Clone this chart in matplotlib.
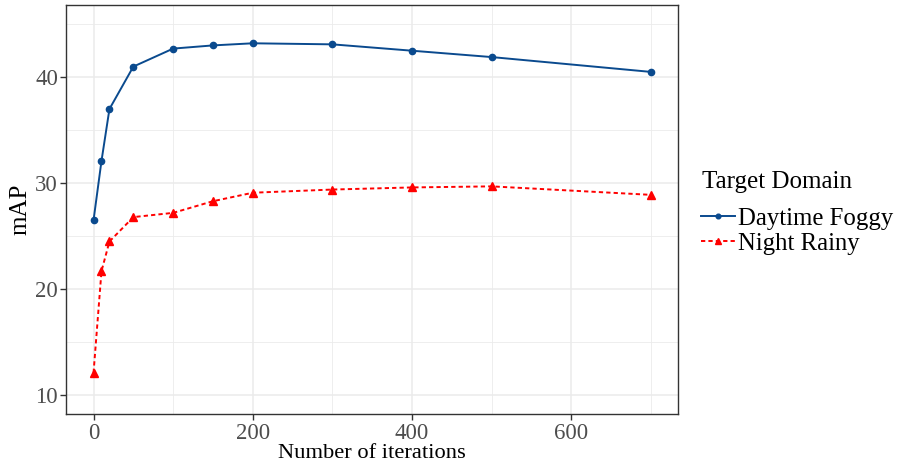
import numpy as np
import matplotlib.pyplot as plt
from matplotlib.ticker import MultipleLocator

iterations = [0, 10, 20, 50, 100, 150, 200, 300, 400, 500, 700]
daytime_foggy = [26.5, 32.1, 37.0, 41.0, 42.7, 43.0, 43.2, 43.1, 42.5, 41.9, 40.5]
night_rainy = [12.1, 21.7, 24.5, 26.8, 27.2, 28.3, 29.1, 29.4, 29.6, 29.7, 28.9]

series_names = ["Daytime Foggy", "Night Rainy"]

plt.rcParams["font.family"] = ["Liberation Serif", "DejaVu Serif"]

fig = plt.figure(figsize=(8.98, 4.67), dpi=100)
ax = fig.add_axes([0.074, 0.113, 0.681, 0.876])

ax.plot(iterations, daytime_foggy, color="#0A4A8E", linestyle="-", linewidth=1.4,
        marker="o", markersize=4.5, label=series_names[0], zorder=3)
ax.plot(iterations, night_rainy, color="#FF0000", linestyle=(0, (2.2, 1.6)), linewidth=1.4,
        marker="^", markersize=5.5, label=series_names[1], zorder=3)

ax.set_xlim(-34, 734)
ax.set_ylim(8.2, 46.8)

ax.xaxis.set_major_locator(MultipleLocator(200))
ax.xaxis.set_minor_locator(MultipleLocator(100))
ax.yaxis.set_major_locator(MultipleLocator(10))
ax.yaxis.set_minor_locator(MultipleLocator(5))

ax.grid(True, which="major", color="#EBEBEB", linewidth=1.1, zorder=0)
ax.grid(True, which="minor", color="#EBEBEB", linewidth=0.6, zorder=0)
ax.set_axisbelow(True)

for s in ax.spines.values():
    s.set_color("#333333")
    s.set_linewidth(1.0)

ax.tick_params(axis="both", which="major", labelsize=16.5, labelcolor="#4D4D4D",
               color="#333333", length=4, width=1.0, pad=2)
ax.tick_params(axis="both", which="minor", length=0)

ax.set_xlabel("Number of iterations", fontsize=16.2, labelpad=0)
ax.set_ylabel("mAP", fontsize=18, labelpad=3)

# legend title drawn separately so the gap to the entries can be set
fig.text(702 / 898, 1 - 182 / 467, "Target Domain", fontsize=18,
         ha="left", va="center")
leg = fig.legend(loc="center left", bbox_to_anchor=(0.781, 1 - 231 / 467), frameon=False,
                 fontsize=17.8, handlelength=1.35, handletextpad=0.15, labelspacing=0.12,
                 markerscale=0.75, borderaxespad=0, borderpad=0)

fig.savefig("out.png", dpi=100)
